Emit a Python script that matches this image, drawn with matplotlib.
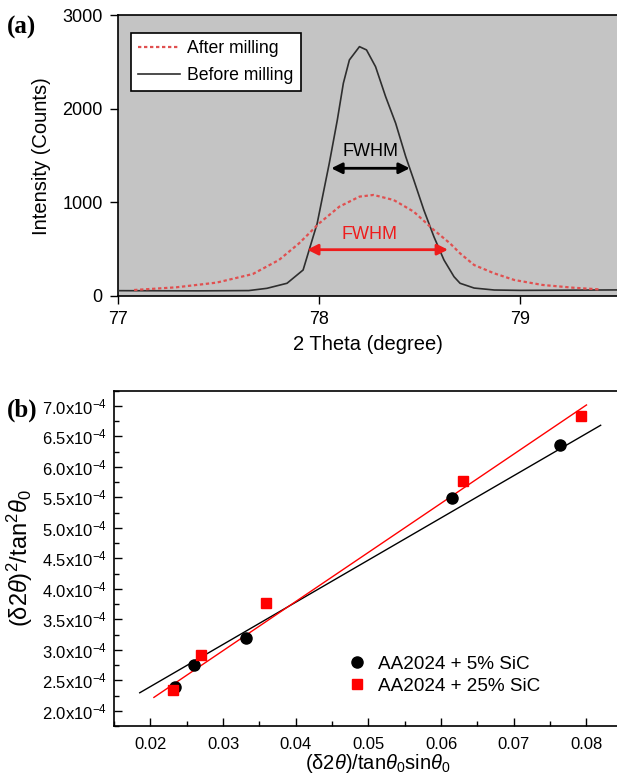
import numpy as np
import matplotlib
matplotlib.use('Agg')
import matplotlib.pyplot as plt
from matplotlib.ticker import MultipleLocator, FixedLocator

plt.rcParams['font.family'] = ['Liberation Sans', 'DejaVu Sans']
plt.rcParams['mathtext.fontset'] = 'custom'
plt.rcParams['mathtext.rm'] = 'Liberation Sans'
plt.rcParams['mathtext.it'] = 'Liberation Sans:italic'
plt.rcParams['mathtext.bf'] = 'Liberation Sans:bold'

# (a) XRD peak, before milling (black) and after milling (red dotted)
before_x = [77.00, 77.40, 77.65, 77.74, 77.84, 77.92, 77.95, 77.99, 78.02, 78.05,
            78.09, 78.12, 78.15, 78.20, 78.235, 78.28, 78.33, 78.38, 78.43, 78.47,
            78.52, 78.57, 78.62, 78.67, 78.70, 78.77, 78.87, 79.00, 79.20, 79.48]
before_y = [57, 55, 58, 82, 136, 278, 492, 777, 1098, 1418,
            1881, 2274, 2523, 2665, 2630, 2451, 2131, 1846, 1489, 1240,
            919, 634, 385, 206, 136, 85, 64, 60, 62, 65]

after_x = [77.08, 77.29, 77.49, 77.67, 77.80, 77.90, 78.00, 78.10, 78.20, 78.27,
           78.37, 78.47, 78.57, 78.65, 78.70, 78.77, 78.87, 78.97, 79.11, 79.26,
           79.39]
after_y = [64, 93, 143, 235, 385, 563, 777, 955, 1062, 1080,
           1026, 901, 705, 563, 456, 331, 242, 171, 118, 89,
           71]

fwhm_before = [78.06, 78.45]
fwhm_before_y = 1365
fwhm_after = [77.94, 78.64]
fwhm_after_y = 495

# (b) Williamson-Hall type plot
sic5_x = [0.02336, 0.02607, 0.03312, 0.06146, 0.07642]
sic5_y = [2.383e-4, 2.744e-4, 3.198e-4, 5.496e-4, 6.360e-4]
sic25_x = [0.02309, 0.02699, 0.03594, 0.06298, 0.07919]
sic25_y = [2.339e-4, 2.908e-4, 3.761e-4, 5.769e-4, 6.836e-4]
fit5_x = [0.01854, 0.08195]
fit5_y = [2.295e-4, 6.683e-4]
fit25_x = [0.02049, 0.0800]
fit25_y = [2.219e-4, 7.016e-4]

yticks_b = [2.0e-4, 2.5e-4, 3.0e-4, 3.5e-4, 4.0e-4, 4.5e-4, 5.0e-4, 5.5e-4, 6.0e-4, 6.5e-4, 7.0e-4]
ytick_labels_b = ['%.1fx10$^{-4}$' % (v * 1e4) for v in yticks_b]

W, H = 617, 777
fig = plt.figure(figsize=(W / 100, H / 100), dpi=100)

# ---- panel (a)
ax1 = fig.add_axes([118 / W, 1 - 296 / H, 1 - 118 / W, (296 - 15.3) / H])
ax1.set_facecolor('#c4c4c4')
ax1.plot(before_x, before_y, color='#2e2e2e', lw=1.2, label='Before milling', zorder=3)
ax1.plot(after_x, after_y, color='#e05050', lw=1.6, ls=(0, (1.5, 1.2)), label='After milling', zorder=4)

ax1.annotate('', xy=(fwhm_before[0], fwhm_before_y), xytext=(fwhm_before[1], fwhm_before_y),
             arrowprops=dict(arrowstyle='<|-|>', color='black', lw=2, mutation_scale=16,
                             shrinkA=0, shrinkB=0), zorder=5)
ax1.text(np.mean(fwhm_before), 1543, 'FWHM', ha='center', va='center', fontsize=13, color='black')
ax1.annotate('', xy=(fwhm_after[0], fwhm_after_y), xytext=(fwhm_after[1], fwhm_after_y),
             arrowprops=dict(arrowstyle='<|-|>', color='#ee1c1c', lw=2, mutation_scale=16,
                             shrinkA=0, shrinkB=0), zorder=5)
ax1.text(78.25, 652, 'FWHM', ha='center', va='center', fontsize=13, color='#ee1c1c')

ax1.set_xlim(77, 79.48)
ax1.set_ylim(0, 3000)
ax1.set_xticks([77, 78, 79])
ax1.set_yticks([0, 1000, 2000, 3000])
ax1.tick_params(direction='out', length=6, width=1, labelsize=13, pad=5)
ax1.spines['right'].set_visible(False)
for s in ['left', 'bottom', 'top']:
    ax1.spines[s].set_linewidth(1.2)
ax1.set_xlabel('2 Theta (degree)', fontsize=14.5)
ax1.set_ylabel('Intensity (Counts)', fontsize=14.5)
ax1.xaxis.set_label_coords(0.5, -0.139)
ax1.yaxis.set_label_coords(-0.134, 0.5)

h, l = ax1.get_legend_handles_labels()
leg = ax1.legend(h[::-1], l[::-1], loc='upper left', bbox_to_anchor=(0.026, 0.937),
                 borderaxespad=0, fontsize=12.7, handlelength=2.4, handletextpad=0.4,
                 borderpad=0.4, labelspacing=0.55, fancybox=False, framealpha=1,
                 edgecolor='black', facecolor='white')
leg.get_frame().set_linewidth(1.2)

fig.text(7 / W, 1 - 27 / H, '(a)', fontsize=18, fontweight='bold',
         family='Liberation Serif', va='center', ha='left')

# ---- panel (b)
ax2 = fig.add_axes([114 / W, 1 - 726 / H, 1 - 114 / W, (726 - 390.7) / H])
ax2.plot(fit5_x, fit5_y, color='black', lw=1)
ax2.plot(fit25_x, fit25_y, color='#ff0000', lw=1)
ax2.plot(sic5_x, sic5_y, 'o', color='black', ms=8, label='AA2024 + 5% SiC', zorder=4)
ax2.plot(sic25_x, sic25_y, 's', color='#ff0000', ms=7.5, label='AA2024 + 25% SiC', zorder=4)

ax2.set_xlim(0.015, 0.0842)
ax2.set_ylim(1.75e-4, 7.25e-4)
ax2.set_xticks([0.02, 0.03, 0.04, 0.05, 0.06, 0.07, 0.08])
ax2.set_xticklabels(['0.02', '0.03', '0.04', '0.05', '0.06', '0.07', '0.08'])
ax2.yaxis.set_major_locator(FixedLocator(yticks_b))
ax2.set_yticklabels(ytick_labels_b)
ax2.xaxis.set_minor_locator(MultipleLocator(0.005))
ax2.yaxis.set_minor_locator(MultipleLocator(0.25e-4))
ax2.tick_params(which='major', direction='in', length=6, width=1, labelsize=12)
ax2.tick_params(which='minor', direction='in', length=3.5, width=1)
ax2.tick_params(axis='x', pad=8)
ax2.tick_params(axis='y', pad=5)
ax2.spines['right'].set_visible(False)
for s in ['left', 'bottom', 'top']:
    ax2.spines[s].set_linewidth(1.2)

ax2.set_ylabel('(δ2$\\theta$)$^2$/tan$^2$$\\theta_0$', fontsize=17)
ax2.set_xlabel('(δ2$\\theta$)/tan$\\theta_0$sin$\\theta_0$', fontsize=14.5)
ax2.yaxis.set_label_coords(-0.157, 0.5)
ax2.xaxis.set_label_coords(0.525, -0.078)

ax2.legend(loc='center left', bbox_to_anchor=(0.465, 0.152), frameon=False,
           fontsize=13.6, handlelength=1, handletextpad=0.6, labelspacing=0.25,
           borderpad=0, borderaxespad=0)

fig.text(7 / W, 1 - 410 / H, '(b)', fontsize=18, fontweight='bold',
         family='Liberation Serif', va='center', ha='left')

fig.savefig('out.png', dpi=100)
